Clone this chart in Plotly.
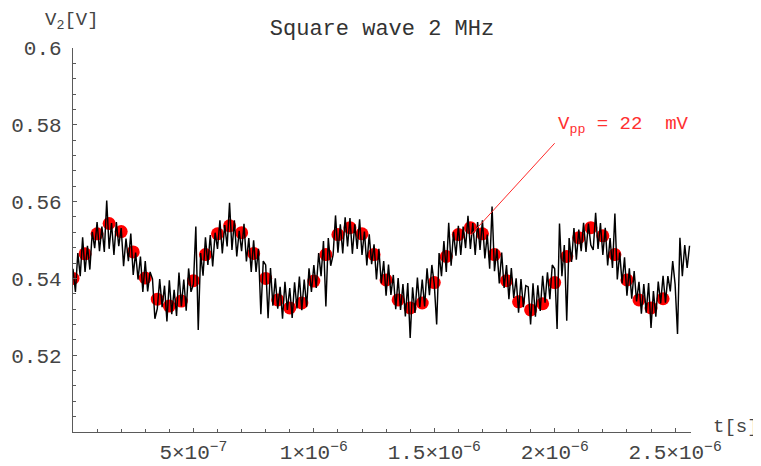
import numpy as np
import plotly.graph_objects as go

# ---- data ----
dt_line = 1e-8          # sample spacing of the noisy trace [s]
v2_line = [
    0.5425, 0.5365, 0.5466, 0.5406, 0.5507, 0.5417, 0.5485, 0.5423, 0.5521, 0.5479,
    0.5547, 0.5471, 0.5535, 0.5469, 0.5603, 0.5477, 0.5544, 0.5461, 0.5547, 0.5484,
    0.5531, 0.5432, 0.5504, 0.5445, 0.5517, 0.5409, 0.5467, 0.5397, 0.5457, 0.5365,
    0.5445, 0.5366, 0.5417, 0.5399, 0.5295, 0.5321, 0.5398, 0.5325, 0.5381, 0.5288,
    0.5395, 0.5307, 0.5370, 0.5302, 0.5415, 0.5327, 0.5397, 0.5316, 0.5426, 0.5365,
    0.5385, 0.5535, 0.5266, 0.5466, 0.5407, 0.5507, 0.5435, 0.5513, 0.5431, 0.5519,
    0.5477, 0.5551, 0.5465, 0.5539, 0.5483, 0.5597, 0.5474, 0.5551, 0.5457, 0.5524,
    0.5471, 0.5542, 0.5444, 0.5505, 0.5417, 0.5499, 0.5417, 0.5477, 0.5307, 0.5445,
    0.5435, 0.5296, 0.5427, 0.5329, 0.5400, 0.5321, 0.5378, 0.5295, 0.5391, 0.5318,
    0.5375, 0.5297, 0.5390, 0.5322, 0.5405, 0.5317, 0.5397, 0.5326, 0.5426, 0.5365,
    0.5435, 0.5375, 0.5466, 0.5406, 0.5497, 0.5327, 0.5505, 0.5433, 0.5461, 0.5564,
    0.5467, 0.5541, 0.5465, 0.5559, 0.5483, 0.5557, 0.5464, 0.5541, 0.5477, 0.5554,
    0.5461, 0.5522, 0.5434, 0.5515, 0.5437, 0.5489, 0.5397, 0.5477, 0.5387, 0.5445,
    0.5355, 0.5436, 0.5357, 0.5409, 0.5320, 0.5401, 0.5318, 0.5385, 0.5301, 0.5388,
    0.5245, 0.5377, 0.5310, 0.5402, 0.5325, 0.5397, 0.5327, 0.5426, 0.5356, 0.5435,
    0.5385, 0.5280, 0.5466, 0.5406, 0.5497, 0.5417, 0.5545, 0.5433, 0.5521, 0.5459,
    0.5537, 0.5461, 0.5535, 0.5479, 0.5563, 0.5477, 0.5544, 0.5461, 0.5547, 0.5474,
    0.5551, 0.5452, 0.5514, 0.5425, 0.5587, 0.5419, 0.5477, 0.5387, 0.5467, 0.5375,
    0.5435, 0.5346, 0.5427, 0.5349, 0.5400, 0.5311, 0.5398, 0.5325, 0.5381, 0.5378,
    0.5280, 0.5387, 0.5300, 0.5382, 0.5315, 0.5407, 0.5337, 0.5416, 0.5346, 0.5435,
    0.5425, 0.5268, 0.5543, 0.5406, 0.5487, 0.5290, 0.5505, 0.5443, 0.5531, 0.5449,
    0.5527, 0.5471, 0.5545, 0.5469, 0.5543, 0.5487, 0.5474, 0.5571, 0.5477, 0.5544,
    0.5461, 0.5532, 0.5434, 0.5505, 0.5427, 0.5569, 0.5397, 0.5467, 0.5387, 0.5455,
    0.5355, 0.5426, 0.5347, 0.5419, 0.5340, 0.5391, 0.5308, 0.5385, 0.5311, 0.5388,
    0.5271, 0.5367, 0.5300, 0.5392, 0.5335, 0.5407, 0.5337, 0.5406, 0.5366, 0.5445,
    0.5385, 0.5255, 0.5506, 0.5406, 0.5487, 0.5427, 0.5485,
]

dt_dots = 5e-8          # spacing of the red points [s]
v2_dots = [
    0.5400, 0.5464, 0.5516, 0.5543, 0.5522, 0.5469, 0.5401, 0.5346, 0.5328, 0.5341,
    0.5394, 0.5462, 0.5516, 0.5537, 0.5519, 0.5465, 0.5400, 0.5344, 0.5323, 0.5336,
    0.5393, 0.5462, 0.5514, 0.5532, 0.5516, 0.5462, 0.5396, 0.5344, 0.5323, 0.5336,
    0.5389, 0.5457, 0.5514, 0.5532, 0.5516, 0.5462, 0.5394, 0.5339, 0.5318, 0.5334,
    0.5389, 0.5457, 0.5506, 0.5532, 0.5511, 0.5462, 0.5396, 0.5344, 0.5323, 0.5347,
]

y_ticks = [0.52, 0.54, 0.56, 0.58, 0.6]
y_labels = ["0.52", "0.54", "0.56", "0.58", "0.6"]
x_ticks = [5e-7, 1e-6, 1.5e-6, 2e-6, 2.5e-6]
x_labels = ["5\u00d710<sup>\u22127</sup>", "1\u00d710<sup>\u22126</sup>",
            "1.5\u00d710<sup>\u22126</sup>", "2\u00d710<sup>\u22126</sup>",
            "2.5\u00d710<sup>\u22126</sup>"]
title_text = "Square wave 2 MHz"
vpp_text = "V<sub>pp</sub> = 22\u00a0\u00a0mV"
x_max = 2.566e-6

t_line = np.arange(len(v2_line)) * dt_line
t_dots = np.arange(len(v2_dots)) * dt_dots

FONT = "Liberation Mono, Courier New, monospace"
AX = "#5a5a5a"

# the page body has an 8px margin, so the figure is drawn 8px in from the corner
W, H = 753, 458

fig = go.Figure()
fig.add_trace(go.Scatter(x=t_dots, y=v2_dots, mode="markers",
                         marker=dict(color="#ff0000", size=13, line=dict(width=0)),
                         hoverinfo="skip"))
fig.add_trace(go.Scatter(x=t_line, y=v2_line, mode="lines",
                         line=dict(color="black", width=1.45)))

minor_y = [v for v in np.round(np.arange(0.5, 0.6001, 0.004), 4) if v not in y_ticks]
minor_x = [v for v in np.arange(1, 26) * 1e-7 if all(abs(v - m) > 1e-9 for m in x_ticks)]

fig.update_layout(
    width=W, height=H,
    margin=dict(l=65, r=70, t=40, b=34, autoexpand=False),
    paper_bgcolor="white", plot_bgcolor="white",
    showlegend=False,
    font=dict(family=FONT, color="#444"),
    title=dict(text=title_text, x=0.5, xref="paper", xanchor="center",
               y=1 - 19 / H, yanchor="middle",
               font=dict(family=FONT, size=22, color="#333")),
)
fig.update_xaxes(range=[0, x_max], showline=True, linecolor=AX, linewidth=1.3,
                 showgrid=False, zeroline=False, automargin=False,
                 tickmode="array", tickvals=x_ticks, ticktext=x_labels,
                 ticks="inside", ticklen=4, tickcolor=AX, tickwidth=1.2,
                 ticklabelstandoff=1,
                 tickfont=dict(family=FONT, size=21, color="#444"),
                 minor=dict(tickvals=minor_x, ticks="inside", ticklen=3,
                            tickcolor=AX, tickwidth=1))
fig.update_yaxes(range=[0.5, 0.6], showline=True, linecolor=AX, linewidth=1.3,
                 showgrid=False, zeroline=False, automargin=False,
                 tickmode="array", tickvals=y_ticks, ticktext=y_labels,
                 ticks="inside", ticklen=4, tickcolor=AX, tickwidth=1.2,
                 ticklabelstandoff=6,
                 tickfont=dict(family=FONT, size=21, color="#444"),
                 minor=dict(tickvals=minor_y, ticks="inside", ticklen=3,
                            tickcolor=AX, tickwidth=1))

# axis labels
fig.add_annotation(text="V<sub>2</sub>[V]", xref="paper", yref="paper",
                   x=-0.048, y=1.07, xanchor="left", yanchor="middle",
                   showarrow=False, font=dict(family=FONT, size=19, color="#444"))
fig.add_annotation(text="t[s]", xref="paper", yref="paper",
                   x=1.032, y=0.012, xanchor="left", yanchor="middle",
                   showarrow=False, font=dict(family=FONT, size=19, color="#444"))

# Vpp annotation
i_pk = 33
fig.add_shape(type="line", xref="x", yref="y",
              x0=t_dots[i_pk], y0=v2_dots[i_pk] - 0.002, x1=2.0e-6, y1=0.5752,
              line=dict(color="#ff2a2a", width=1))
fig.add_annotation(text=vpp_text, xref="x", yref="y", x=2.006e-6, y=0.5800,
                   xanchor="left", yanchor="middle", showarrow=False,
                   font=dict(family=FONT, size=19, color="#ff3030"))

fig.write_html("out.html")
